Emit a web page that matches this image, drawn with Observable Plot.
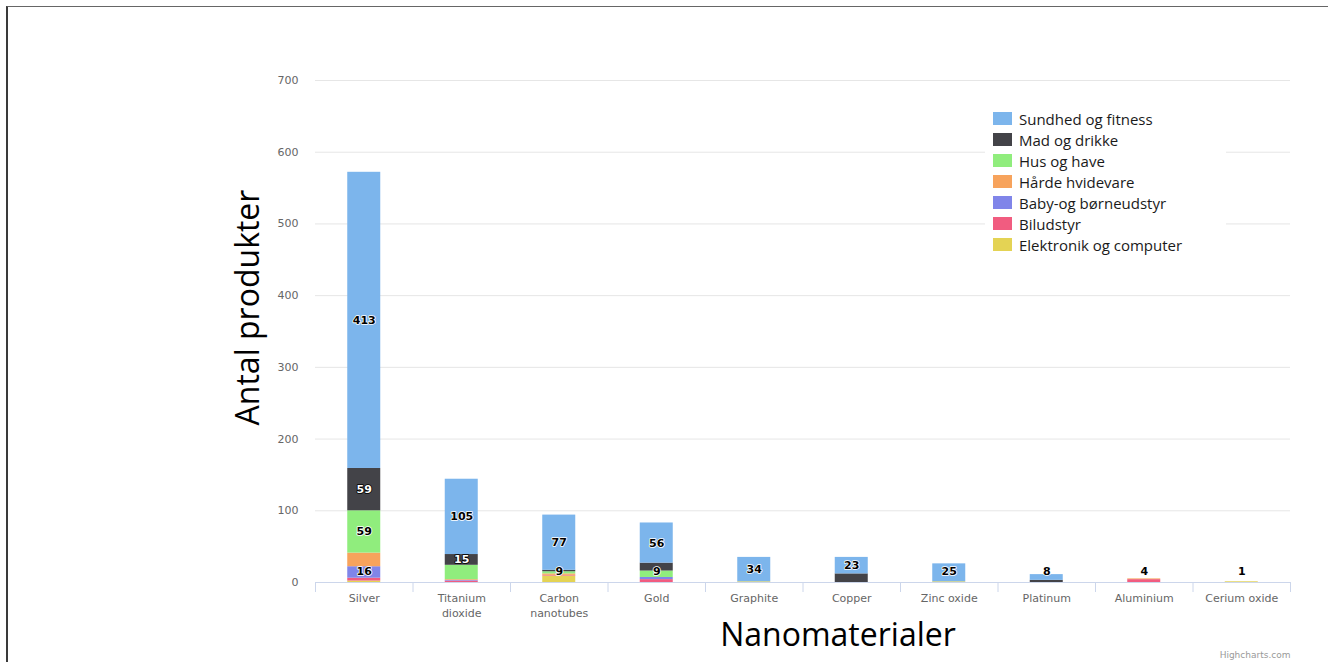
<!DOCTYPE html>
<html>
<head>
<meta charset="utf-8">
<script src="https://cdn.jsdelivr.net/npm/d3@7"></script>
<script src="https://cdn.jsdelivr.net/npm/@observablehq/plot@0.6"></script>
<style>
  html, body { margin: 0; padding: 0; background: #fff; }
  #wrap { position: relative; width: 1328px; height: 662px; overflow: hidden; }
  #frame { position: absolute; left: 6px; top: 6px; right: -10px; bottom: -10px;
           border-left: 2px solid #3a3a3a; border-top: 1.5px solid #666; pointer-events: none; }
  #legend { position: absolute; left: 985px; top: 106px; width: 241px; height: 152px; background: #fff;
            font-family: "Open Sans", sans-serif; font-size: 15px; color: #1a1a1a; }
  .row { position: absolute; left: 8px; height: 21px; display: flex; align-items: center; }
  .sw { width: 19px; height: 13px; margin-right: 7px; }
</style>
</head>
<body>
<div id="wrap">
  <div id="chart"></div>
  <div id="legend"></div>
  <div id="frame"></div>
</div>
<script>
const categories = ["Silver", "Titanium dioxide", "Carbon nanotubes", "Gold", "Graphite", "Copper", "Zinc oxide", "Platinum", "Aluminium", "Cerium oxide"];
const xLabels = ["Silver", "Titanium\ndioxide", "Carbon\nnanotubes", "Gold", "Graphite", "Copper", "Zinc oxide", "Platinum", "Aluminium", "Cerium oxide"];
const series = ["Sundhed og fitness", "Mad og drikke", "Hus og have", "Hårde hvidevare", "Baby-og børneudstyr", "Biludstyr", "Elektronik og computer"];
const colors = ["#7cb5ec", "#434348", "#90ed7d", "#f7a35c", "#8085e9", "#f15c80", "#e4d354"];
const sundhed    = [413, 105, 77, 56, 34, 23, 25, 8, 0, 0];
const mad        = [59, 15, 2, 11, 0, 12, 0, 3, 0, 0];
const hus        = [59, 20, 3, 9, 0, 0, 0, 0, 0, 0];
const haarde     = [19, 1, 2, 0, 0, 0, 0, 0, 1, 0];
const baby       = [16, 1, 0, 3, 0, 0, 0, 0, 0, 0];
const bil        = [4, 2, 1, 4, 0, 0, 0, 0, 4, 0];
const elektronik = [2, 0, 9, 0, 1, 0, 1, 0, 0, 1];
const values = [sundhed, mad, hus, haarde, baby, bil, elektronik];
// which series show a data label in each category (others hidden by overlap in the original)
const shownLabels = [[0, 1, 2, 4], [0, 1], [0, 6], [0, 2], [0], [0], [0], [0], [5], [6]];
const yTicks = [0, 100, 200, 300, 400, 500, 600, 700];

// rows: bottom series first so that the first series ends up on top
const rows = [];
for (let s = series.length - 1; s >= 0; s--) {
  categories.forEach((c, i) => rows.push({cat: c, series: series[s], value: values[s][i]}));
}
// label positions (stack midpoints, kept inside the plot bottom)
const labels = [];
categories.forEach((c, i) => {
  let base = 0;
  const mids = [];
  for (let s = series.length - 1; s >= 0; s--) {
    mids[s] = base + values[s][i] / 2;
    base += values[s][i];
  }
  shownLabels[i].forEach(s => labels.push({cat: c, y: Math.max(mids[s], 15.5), text: String(values[s][i]), dark: s === 1}));
});

const chart = Plot.plot({
  width: 1328,
  height: 662,
  marginLeft: 315,
  marginRight: 38,
  marginTop: 80,
  marginBottom: 80,
  style: {fontFamily: "DejaVu Sans, sans-serif", fontSize: "11px", background: "transparent"},
  x: {domain: categories, padding: 0, round: false, axis: null},
  y: {domain: [0, 700], axis: null},
  color: {domain: series, range: colors},
  marks: [
    Plot.ruleY(yTicks.filter(d => d > 0), {stroke: "#e6e6e6"}),
    Plot.barY(rows, {x: "cat", y: "value", fill: "series", insetLeft: 32.25, insetRight: 32.25}),
    Plot.ruleY([0], {stroke: "#ccd6eb"}),
    Plot.axisY(yTicks, {tickSize: 0, tickPadding: 17, fontSize: 11, color: "#666", label: null, tickFormat: d => String(d)}),
    Plot.axisX({tickSize: 0, tickPadding: 9, fontSize: 11, color: "#666", lineHeight: 1.36, label: null,
      tickFormat: d => xLabels[categories.indexOf(d)]}),
    Plot.axisX({tickSize: 10, tickFormat: () => "", label: null, dx: -48.75, stroke: "#ccd6eb"}),
    Plot.axisX([categories[categories.length - 1]], {tickSize: 10, tickFormat: () => "", label: null, dx: 48.75, stroke: "#ccd6eb"}),
    Plot.text(labels, {x: "cat", y: "y", text: "text", fontWeight: "bold", fontSize: 11,
      fill: d => d.dark ? "#fff" : "#000", stroke: d => d.dark ? "#000" : "#fff", strokeWidth: 1.6}),
    Plot.text(["Antal produkter"], {frameAnchor: "left", textAnchor: "middle", rotate: -90, dx: -67, dy: -24, fontSize: 32,
      fontFamily: "Open Sans, sans-serif", fill: "#000"}),
    Plot.text(["Nanomaterialer"], {frameAnchor: "bottom", dx: 35, dy: 63, fontSize: 32,
      fontFamily: "Open Sans, sans-serif", fill: "#000"}),
    Plot.text(["Highcharts.com"], {frameAnchor: "bottom-right", textAnchor: "end", dy: 75, fontSize: 9, fill: "#999"})
  ]
});
document.getElementById("chart").appendChild(chart);

const legend = document.getElementById("legend");
series.forEach((s, i) => {
  const row = document.createElement("div");
  row.className = "row";
  row.style.top = (2 + i * 21) + "px";
  row.innerHTML = `<div class="sw" style="background:${colors[i]}"></div><span>${s}</span>`;
  legend.appendChild(row);
});
</script>
</body>
</html>
